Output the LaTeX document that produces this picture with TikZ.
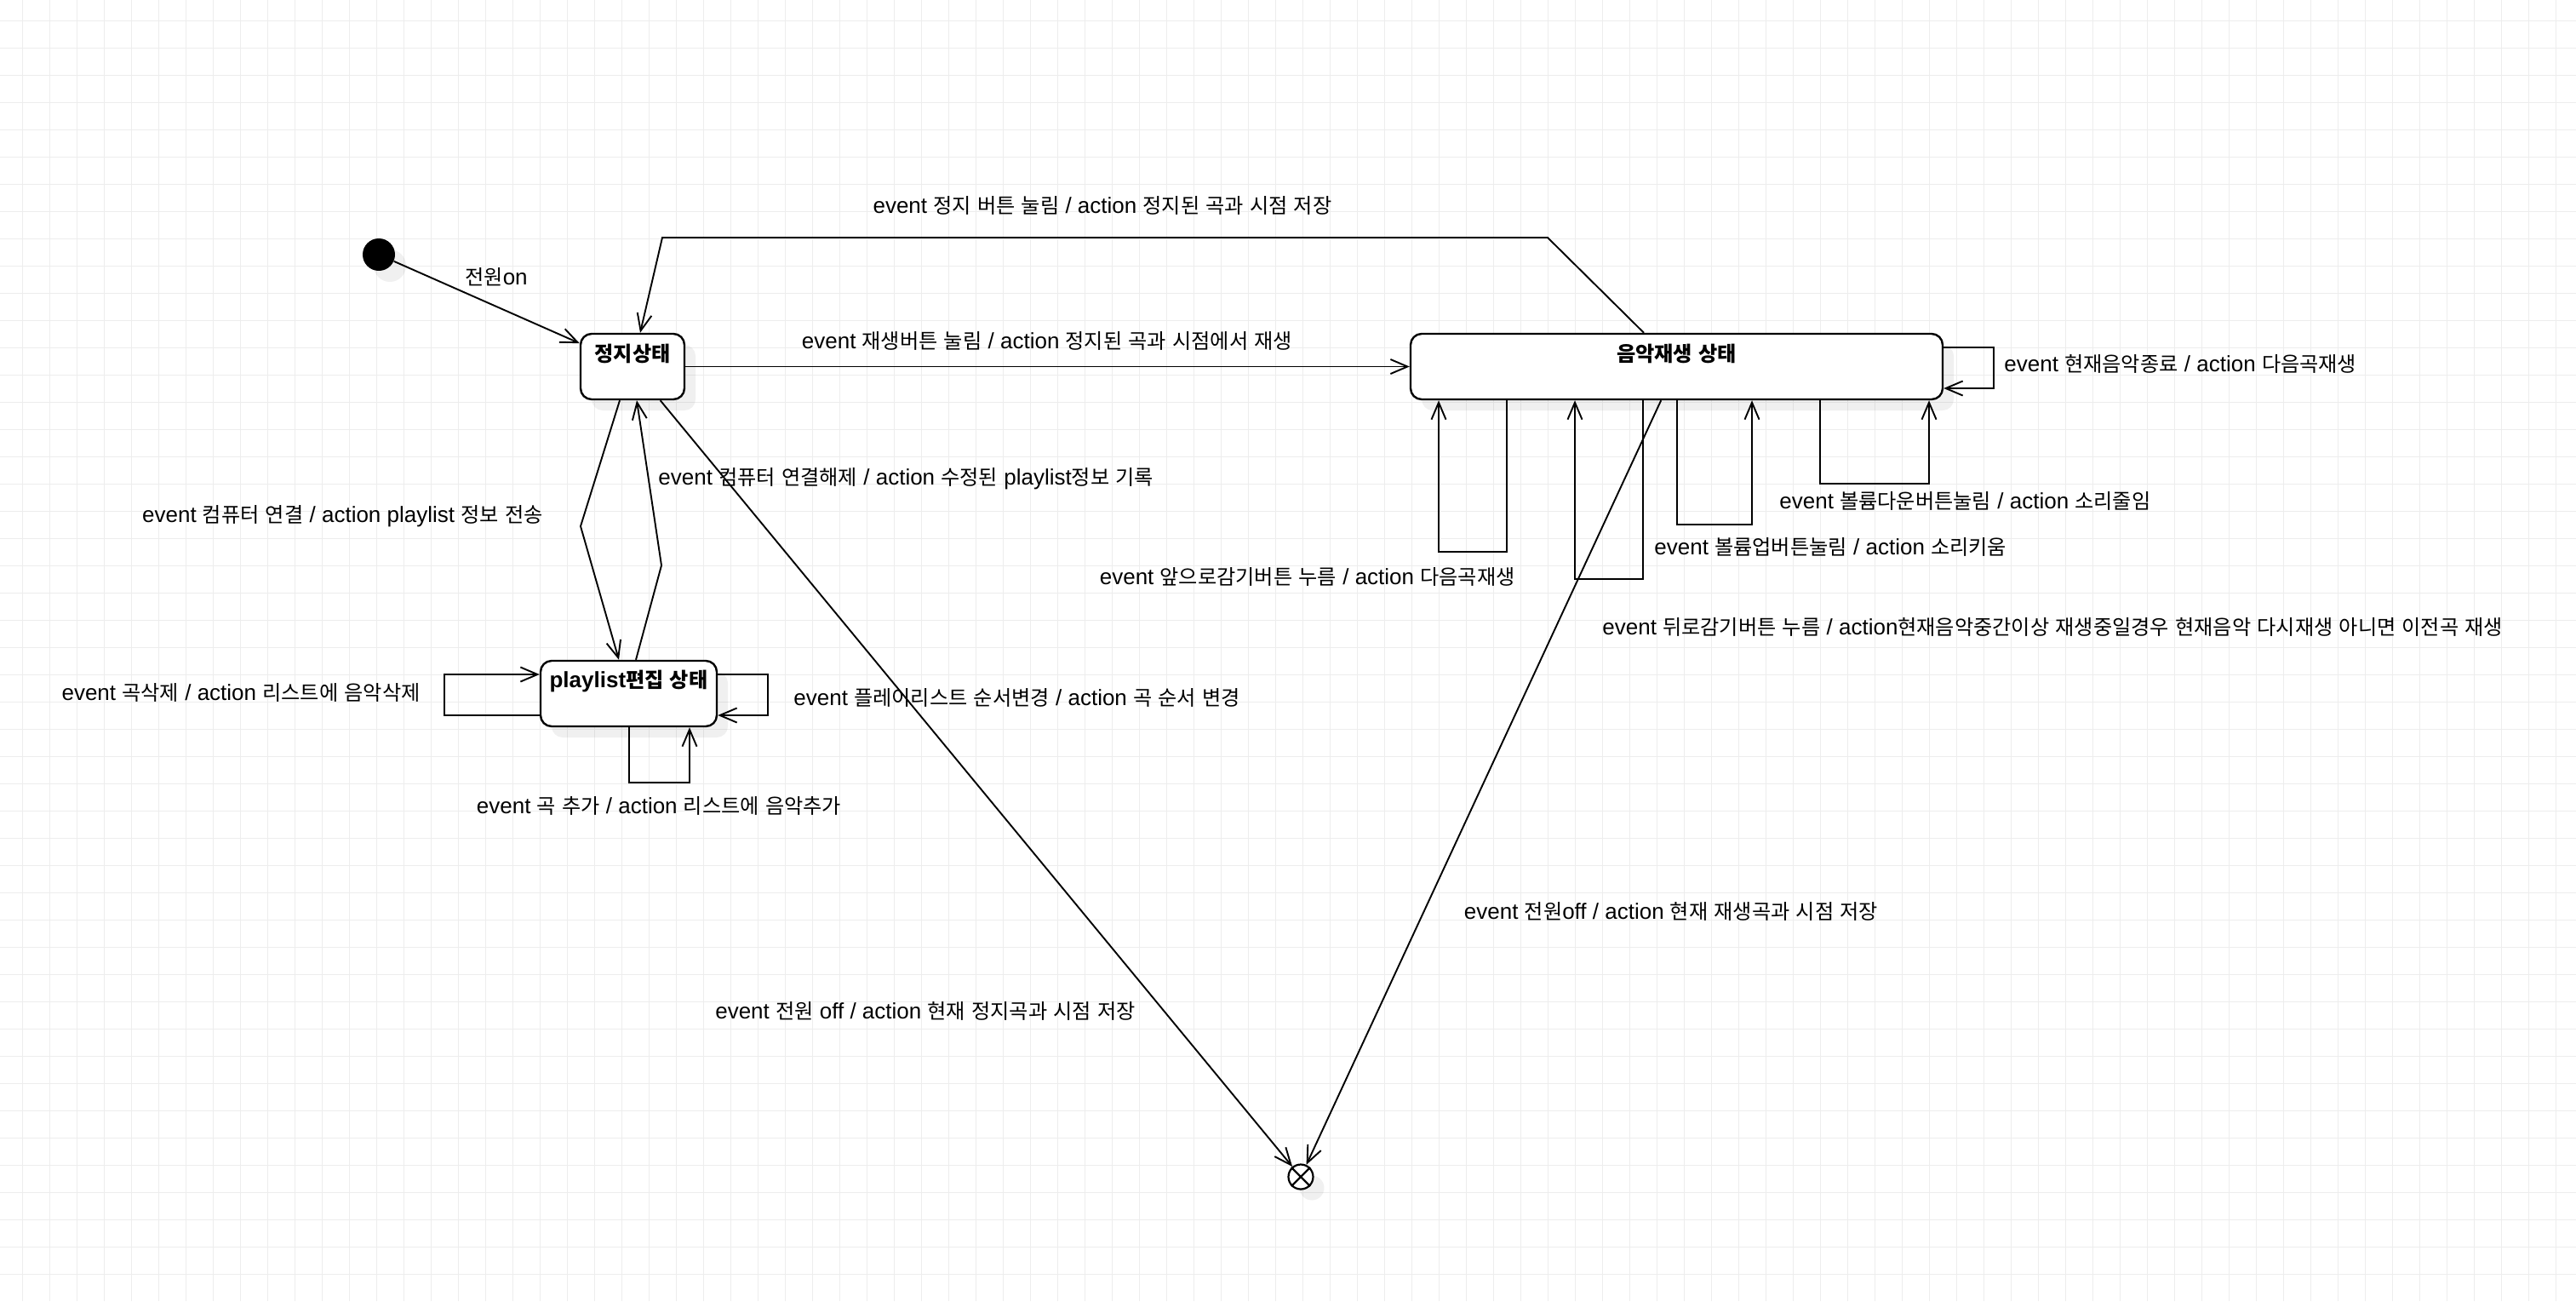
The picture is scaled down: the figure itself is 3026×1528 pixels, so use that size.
\documentclass[tikz,border=0pt]{standalone}
\usepackage{fontspec}
\setmainfont{Liberation Sans}
\newfontfamily\krfont[Scale=0.93]{Noto Sans CJK KR}
\XeTeXinterchartokenstate=1
\newXeTeXintercharclass\krclass
\newcount\krcode
\krcode="AC00
\loop
  \XeTeXcharclass\krcode=\krclass
  \ifnum\krcode<"D7A3 \advance\krcode by 1
\repeat
\XeTeXinterchartoks 0 \krclass={\krfont}
\XeTeXinterchartoks 4095 \krclass={\krfont}
\XeTeXinterchartoks \krclass 0={\rmfamily}
\XeTeXinterchartoks \krclass 4095={\rmfamily}
\usetikzlibrary{arrows.meta,shadows}
\begin{document}
\begin{tikzpicture}[x=0.5pt,y=-0.5pt,
  font=\fontsize{13pt}{15pt}\selectfont,
  gridline/.style={draw=black!7,line width=0.5pt},
  softshadow/.style={drop shadow={shadow xshift=6.5pt,shadow yshift=-6.5pt,fill=black,opacity=.06}},
  statebox/.style={draw,line width=1.2pt,fill=white,rounded corners=6.5pt,inner sep=0pt,softshadow},
  statename/.style={font=\fontsize{13pt}{15pt}\selectfont\bfseries},
  tr/.style={draw,line width=0.95pt,-{Straight Barb[length=10pt,width=8.5pt]}},
  lbl/.style={inner sep=0pt}]
\useasboundingbox (0,0) rectangle (3026,1528);
\fill[white] (0,0) rectangle (3026,1528);
\foreach \k in {0,...,93} \draw[gridline] ({26.5+32*\k},0) -- ({26.5+32*\k},1528);
\foreach \k in {0,...,46} \draw[gridline] (0,{24.3+32*\k}) -- (3026,{24.3+32*\k});

\node[circle,fill=black,minimum size=19pt,inner sep=0pt,softshadow] (init) at (445,299) {};
\node[statebox,minimum width=61pt,minimum height=38.5pt] (stop) at (743,430.5) {};
\node[statebox,minimum width=312.5pt,minimum height=38.5pt] (play) at (1969.5,430.5) {};
\node[statebox,minimum width=103.5pt,minimum height=38.5pt] (edit) at (738.5,814.5) {};
\node[circle,draw,line width=1.1pt,fill=white,minimum size=14.5pt,inner sep=0pt,softshadow] (final) at (1528,1382) {};
\draw[line width=1.1pt] (final.north west) -- (final.south east) (final.north east) -- (final.south west);

\node[statename] (stopname) at ([yshift=-12.5pt]stop.north) {정지상태};
\node[statename] (playname) at ([yshift=-12.5pt]play.north) {음악재생 상태};
\node[statename] (editname) at ([yshift=-12.5pt]edit.north) {playlist편집 상태};

\draw[tr] (init) -- (stop);
\draw[tr] (1931,0 |- play.north) -- (1818,279) -- (778,279) -- (752,0 |- stop.north);
\draw[tr] (stop.east) -- (play.west);
\draw[tr] (stop) -- (final);
\draw[tr] (play) -- (final);
\draw[tr] (728,0 |- stop.south) -- (682,618) -- (727,0 |- edit.north);
\draw[tr] (747,0 |- edit.north) -- (777,664) -- (748,0 |- stop.south);
\draw[tr] (edit.west |- 0,840) -- (522,840) -- (522,792) -- (edit.west |- 0,792);
\draw[tr] (edit.east |- 0,792) -- (902,792) -- (902,840) -- (edit.east |- 0,840);
\draw[tr] (739,0 |- edit.south) -- (739,919) -- (810,919) -- (810,0 |- edit.south);
\draw[tr] (play.east |- 0,408) -- (2342,408) -- (2342,456) -- (play.east |- 0,456);
\draw[tr] (1770,0 |- play.south) -- (1770,648) -- (1690,648) -- (1690,0 |- play.south);
\draw[tr] (1930,0 |- play.south) -- (1930,680) -- (1850,680) -- (1850,0 |- play.south);
\draw[tr] (1970,0 |- play.south) -- (1970,616) -- (2058,616) -- (2058,0 |- play.south);
\draw[tr] (2138,0 |- play.south) -- (2138,568) -- (2266,568) -- (2266,0 |- play.south);

\node[lbl] (onlbl) at (583,325) {전원on};
\node[lbl] (stoplbl) at (1295,241) {event 정지 버튼 눌림 / action 정지된 곡과 시점 저장};
\node[lbl] (playlbl) at (1230,400) {event 재생버튼 눌림 / action 정지된 곡과 시점에서 재생};
\node[lbl,anchor=west] (disclbl) at (773,562) {event 컴퓨터 연결해제 / action 수정된 playlist정보 기록};
\node[lbl,anchor=east] (connlbl) at (638,606) {event 컴퓨터 연결 / action playlist 정보 전송};
\node[lbl,anchor=east] (dellbl) at (494,813) {event 곡삭제 / action 리스트에 음악삭제};
\node[lbl,anchor=west] (orderlbl) at (932,819) {event 플레이리스트 순서변경 / action 곡 순서 변경};
\node[lbl] (addlbl) at (774,946) {event 곡 추가 / action 리스트에 음악추가};
\node[lbl] (offstoplbl) at (1087,1187) {event 전원 off / action 현재 정지곡과 시점 저장};
\node[lbl] (offplaylbl) at (1963,1070) {event 전원off / action 현재 재생곡과 시점 저장};
\node[lbl,anchor=west] (endlbl) at (2354,427) {event 현재음악종료 / action 다음곡재생};
\node[lbl,anchor=west] (downlbl) at (2090,588) {event 볼륨다운버튼눌림 / action 소리줄임};
\node[lbl,anchor=west] (uplbl) at (1943,642) {event 볼륨업버튼눌림 / action 소리키움};
\node[lbl,anchor=east] (fwdlbl) at (1780,677) {event 앞으로감기버튼 누름 / action 다음곡재생};
\node[lbl,anchor=west] (backlbl) at (1882,736) {event 뒤로감기버튼 누름 / action현재음악중간이상 재생중일경우 현재음악 다시재생 아니면 이전곡 재생};
\end{tikzpicture}
\end{document}
